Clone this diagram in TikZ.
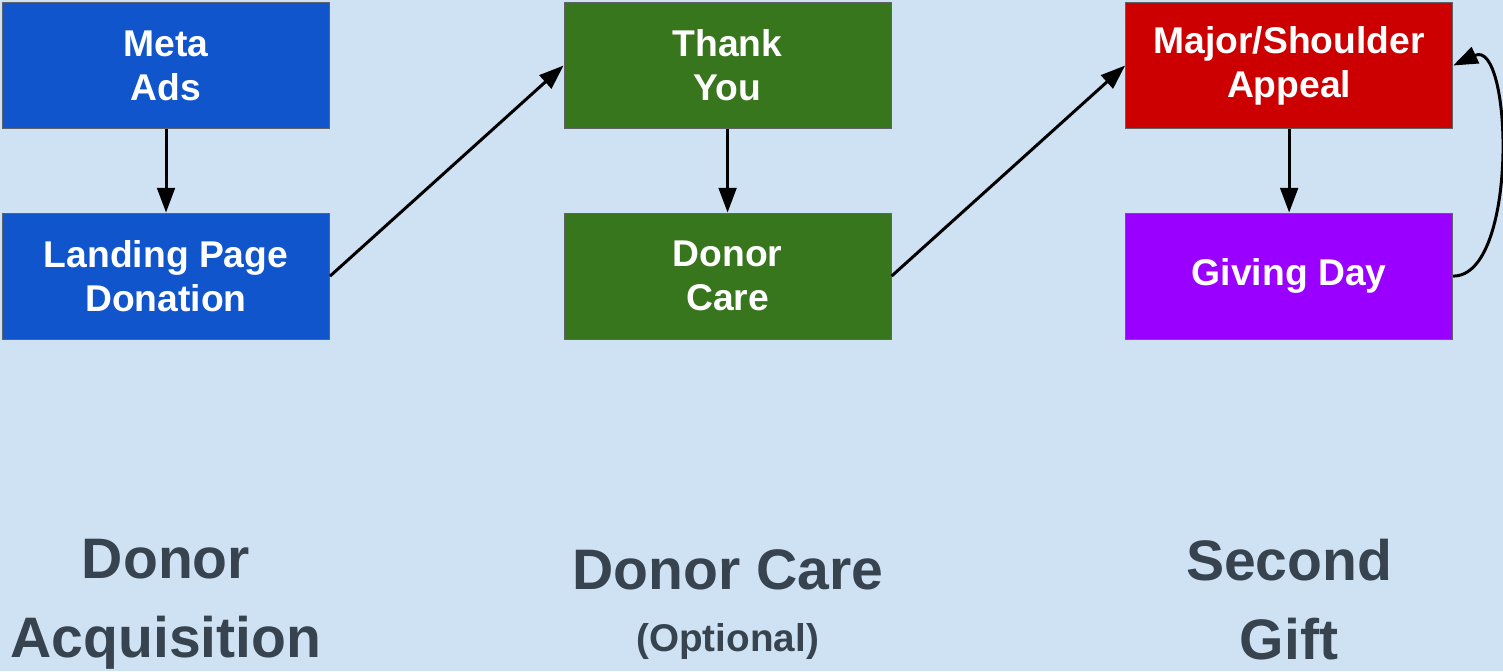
\documentclass[tikz,border=0pt]{standalone}
\usepackage{fontspec}
\setmainfont{Liberation Sans}
\usetikzlibrary{positioning,arrows.meta}
\definecolor{bgblue}{HTML}{CFE2F3}
\definecolor{boxline}{HTML}{5F6368}
\definecolor{metablue}{HTML}{1155CC}
\definecolor{caregreen}{HTML}{38761D}
\definecolor{giftred}{HTML}{CC0000}
\definecolor{daypurple}{HTML}{9900FF}
\definecolor{stagegray}{HTML}{37444F}
\begin{document}
\begin{tikzpicture}[node distance=1.67cm and 4.67cm,
  box/.style={draw=boxline, line width=0.6pt, rectangle, minimum width=6.54cm, minimum height=2.52cm, inner sep=0pt, align=center, text=white, font=\bfseries\fontsize{21.2}{25}\selectfont},
  link/.style={-{Triangle[length=14pt,width=10pt]}, line width=1.7pt},
  stage/.style={text=stagegray, align=center, inner sep=0pt, font=\bfseries\fontsize{32.5}{45}\selectfont}]
  \useasboundingbox (0,0) rectangle (30.06,-13.42);
  \fill[bgblue] (0,0) rectangle (30.06,-13.42);

  \node (meta) [box, fill=metablue, anchor=north west] at (0.04,-0.04) {Meta\\Ads};
  \node (landing) [box, fill=metablue, below=of meta] {Landing Page\\Donation};
  \node (thanks) [box, fill=caregreen, right=of meta] {Thank\\You};
  \node (care) [box, fill=caregreen, below=of thanks] {Donor\\Care};
  \node (major) [box, fill=giftred, right=of thanks] {Major/Shoulder\\Appeal};
  \node (giving) [box, fill=daypurple, below=of major] {Giving Day};

  \draw[link] (meta) -- (landing);
  \draw[link] (thanks) -- (care);
  \draw[link] (major) -- (giving);
  \draw[link] (landing.east) -- (thanks.west);
  \draw[link] (care.east) -- (major.west);
  \draw[link] (giving.east) to[out=0, in=25, looseness=0.8] (major.east);

  % stage labels
  \node (acq) [stage, below=3.98cm of landing] {Donor\\Acquisition};
  \node (opt) [stage, below=4.2cm of care] {Donor Care\\[-10pt]{\fontsize{22}{25}\selectfont (Optional)}};
  \node (second) [stage, below=3.98cm of giving] {Second\\Gift};
\end{tikzpicture}
\end{document}
